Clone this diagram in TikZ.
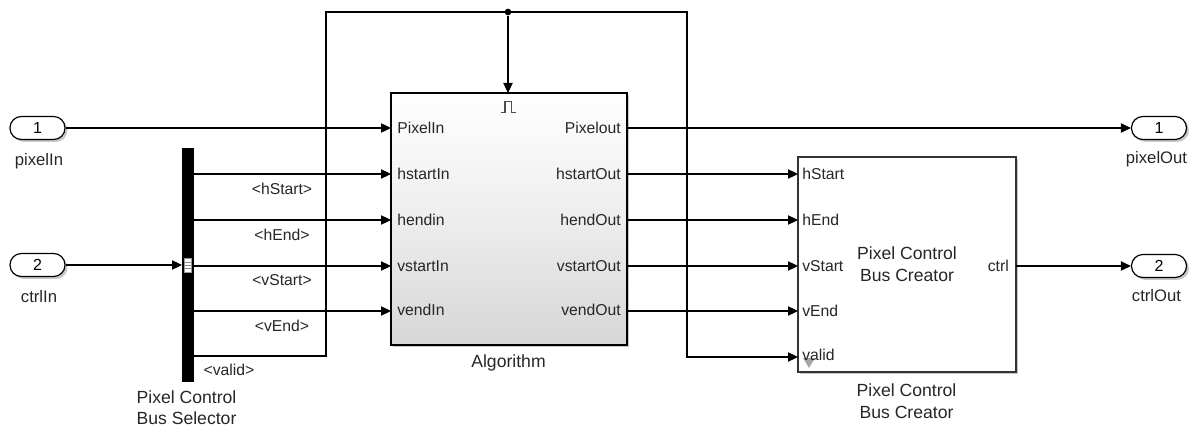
\documentclass[tikz,border=0pt]{standalone}
\usepackage{fontspec}
\setmainfont{Liberation Sans}
\usetikzlibrary{arrows.meta,shadows}
\begin{document}
\begin{tikzpicture}[x=0.75pt,y=-0.75pt,
  wire/.style={line width=0.8pt, draw=black},
  sig/.style={wire, -{Triangle[length=7.5pt,width=7pt]}},
  txt/.style={font=\fontsize{11.8}{14}\selectfont, inner sep=0pt, text=black!85},
  pname/.style={font=\fontsize{12.5}{14.5}\selectfont, inner sep=0pt, text=black!85},
  bname/.style={font=\fontsize{13.2}{16.5}\selectfont, inner sep=0pt, text=black!85, align=center},
  blkshadow/.style={drop shadow={shadow xshift=1.8pt, shadow yshift=-1.8pt, fill=black, opacity=0.22}},
  portbox/.style={draw=black, line width=0.9pt, fill=white, rounded corners=8.5pt,
    minimum width=41.25pt, minimum height=17.25pt, inner sep=0pt,
    font=\fontsize{12}{14}\selectfont, blkshadow},
  algbox/.style={draw=black, line width=2pt, top color=white, bottom color=black!16,
    middle color=white!93!black, minimum width=177pt, minimum height=189pt, inner sep=0pt, blkshadow},
  creatorbox/.style={draw=black!80, line width=1pt, fill=white,
    minimum width=163.5pt, minimum height=161.25pt, inner sep=0pt, blkshadow},
  barbox/.style={fill=black, draw=black, minimum width=8.25pt, minimum height=174.75pt, inner sep=0pt},
  dotnode/.style={circle, fill=black, minimum size=5pt, inner sep=0pt}
]
\useasboundingbox (0,0) rectangle (1196,428);

% ports
\node[portbox] (in1) at (37.5,128) {1};
\node[portbox] (in2) at (37.5,265) {2};
\node[portbox] (out1) at (1159,128) {1};
\node[portbox] (out2) at (1159,266) {2};
\node[pname] (in1l) at (39,161) {pixelIn};
\node[pname] (in2l) at (39,297) {ctrlIn};
\node[pname] (out1l) at (1156.5,159) {pixelOut};
\node[pname] (out2l) at (1156.5,296) {ctrlOut};

% blocks
\node[algbox] (alg) at (509,219) {};
\node[creatorbox] (bc) at (907,264.5) {};
\node[barbox] (sel) at (187.5,264.5) {};

% selector marker
\filldraw[fill=white, draw=black!40, line width=0.4pt] (184,258) rectangle (191,272);
\draw[black!45, line width=0.6pt] (184,262) -- (191,262) (184,265) -- (191,265) (184,268) -- (191,268);

% pulse symbol
\draw[black!70, line width=0.8pt] (500.5,112.5) -- (505,112.5) -- (505,101.5) -- (511.5,101.5) -- (511.5,112.5) -- (516,112.5);

% port coordinates
\foreach \n/\y in {1/128,2/174,3/220,4/266,5/311}{
  \coordinate (aI\n) at (391,\y);
  \coordinate (aO\n) at (627,\y);
}
\foreach \n/\y in {1/174,2/220,3/266,4/311,5/357}{
  \coordinate (bI\n) at (798,\y);
}
\foreach \n/\y in {1/174,2/220,3/266,4/311,5/356}{
  \coordinate (sO\n) at (193,\y);
}
\coordinate (bO) at (1016,266);
\coordinate (selIn) at (182,265);
\coordinate (aTop) at (508,93);
\node[dotnode] (dot) at (508,12) {};

% algorithm port labels
\node[txt, anchor=west] at (397,128) {PixelIn};
\node[txt, anchor=west] at (397,174) {hstartIn};
\node[txt, anchor=west] at (397,220) {hendin};
\node[txt, anchor=west] at (397,266) {vstartIn};
\node[txt, anchor=west] at (397,310) {vendIn};
\node[txt, anchor=east] at (621,128) {Pixelout};
\node[txt, anchor=east] at (621,174) {hstartOut};
\node[txt, anchor=east] at (621,220) {hendOut};
\node[txt, anchor=east] at (621,266) {vstartOut};
\node[txt, anchor=east] at (621,310) {vendOut};
\node[bname] (algl) at (508.5,363) {Algorithm};

% bus creator
\fill[black!35] (803,358) -- (815,358) -- (809,368) -- cycle;
\node[txt, anchor=west] at (802,174) {hStart};
\node[txt, anchor=west] at (802,220) {hEnd};
\node[txt, anchor=west] at (802,266) {vStart};
\node[txt, anchor=west] at (802,311) {vEnd};
\node[txt, anchor=west] at (802,355) {valid};
\node[txt, anchor=east] at (1009,266) {ctrl};
\node[bname] at (907,264) {Pixel Control\\Bus Creator};
\node[bname] (bcl) at (906.5,401) {Pixel Control\\Bus Creator};
\node[bname, font=\fontsize{13.2}{15.5}\selectfont] (sell) at (186.5,407.5) {Pixel Control\\Bus Selector};

% selector signal labels
\node[txt] at (282,189) {<hStart>};
\node[txt] at (282,235) {<hEnd>};
\node[txt] at (282,280) {<vStart>};
\node[txt] at (282,326) {<vEnd>};
\node[txt] at (229,370) {<valid>};

% connectors
\draw[sig] (in1.east) -- (aI1);
\draw[sig] (in2.east) -- (selIn);
\foreach \n in {1,2,3,4}{
  \draw[sig] (sO\n) -- (aI\the\numexpr\n+1\relax);
  \draw[sig] (aO\the\numexpr\n+1\relax) -- (bI\n);
}
\draw[sig] (aO1) -- (out1.west);
\draw[sig] (bO) -- (out2.west);
\draw[sig] (sO5) -- (326,356) -- (326,12) -- (687,12) -- (687,357) -- (bI5);
\draw[sig] (dot) -- (aTop);
\end{tikzpicture}
\end{document}
